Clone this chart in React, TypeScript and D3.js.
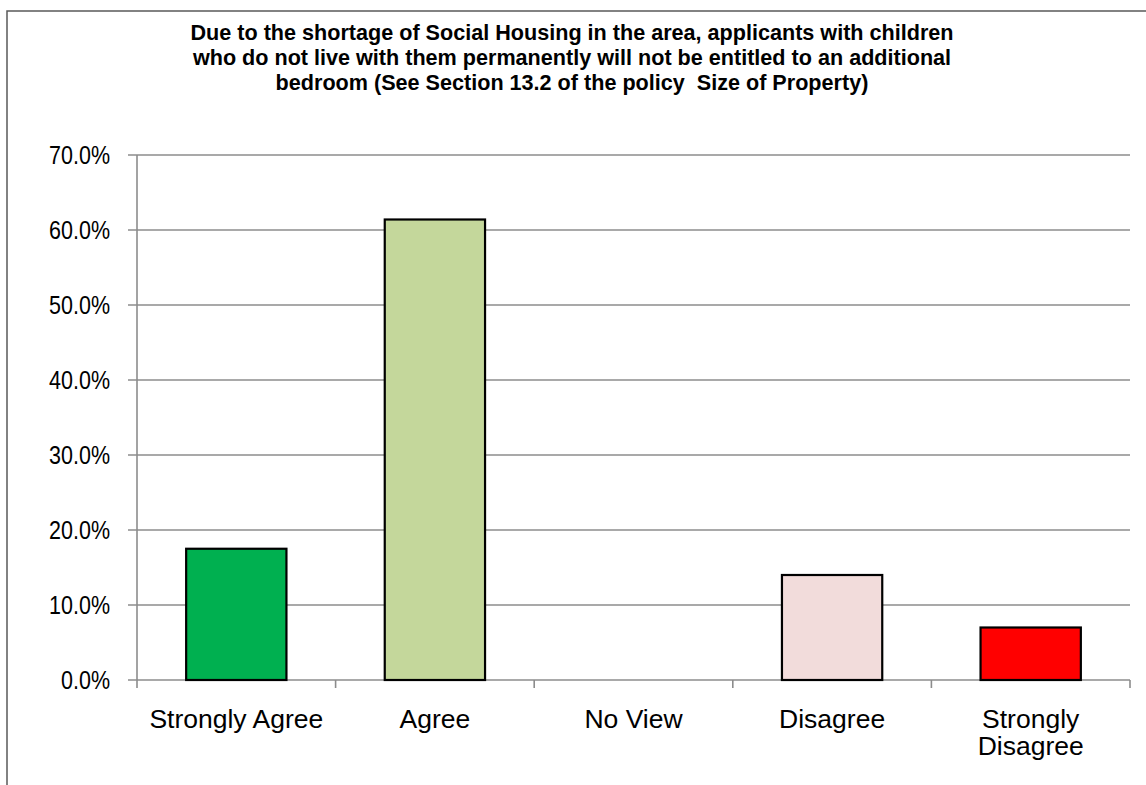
import React from "react";
import * as d3 from "d3";

const categories: string[][] = [["Strongly Agree"], ["Agree"], ["No View"], ["Disagree"], ["Strongly", "Disagree"]];
const values: number[] = [0.175, 0.614, 0, 0.14, 0.07];
const colors: string[] = ["#00B050", "#C4D79B", "#FFFFFF", "#F2DCDB", "#FF0000"];
const yTicks: number[] = [0, 0.1, 0.2, 0.3, 0.4, 0.5, 0.6, 0.7];
const titleLines: string[] = [
  "Due to the shortage of Social Housing in the area, applicants with children",
  "who do not live with them permanently will not be entitled to an additional",
  "bedroom (See Section 13.2 of the policy  Size of Property)",
];

export default function App() {
  const W = 1146, H = 785;
  const left = 137, right = 1130, top = 155, bottom = 680;
  const x = d3.scaleBand<number>().domain(d3.range(categories.length)).range([left, right]).paddingInner(0).paddingOuter(0);
  const y = d3.scaleLinear().domain([0, 0.7]).range([bottom, top]);
  const bw = x.bandwidth();
  const barW = bw * 0.505;
  const fmt = d3.format(".1%");
  const font = "'Liberation Sans', Arial, sans-serif";
  const tickFs = 25;
  return (
    <svg width={W} height={H} style={{ position: "absolute", left: 0, top: 0 }}>
      <rect x={0} y={0} width={W} height={H} fill="#fff" />
      <path d={`M7,${H} V11 H${W}`} fill="none" stroke="#595959" strokeWidth={1.5} />
      {titleLines.map((t, i) => (
        <text key={i} x={572} y={39.5 + i * 25} textAnchor="middle" fontFamily={font} fontWeight="bold" fontSize={21.6} fill="#000" style={{ whiteSpace: "pre" }}>{t}</text>
      ))}
      {yTicks.map((t) => (
        <g key={t}>
          <line x1={left - 9} x2={right} y1={y(t)} y2={y(t)} stroke="#8c8c8c" strokeWidth={1.6} />
          <text transform={`translate(110, ${y(t) + tickFs * 0.358}) scale(0.86, 1)`} textAnchor="end" fontFamily={font} fontSize={tickFs} fill="#000">{fmt(t)}</text>
        </g>
      ))}
      <line x1={left} x2={left} y1={top} y2={bottom} stroke="#8c8c8c" strokeWidth={1.6} />
      {d3.range(categories.length + 1).map((i) => {
        const xx = i < categories.length ? x(i)! : right;
        return <line key={i} x1={xx} x2={xx} y1={bottom} y2={bottom + 8} stroke="#8c8c8c" strokeWidth={1.6} />;
      })}
      {values.map((v, i) => v > 0 && (
        <rect key={i} x={x(i)! + (bw - barW) / 2} y={y(v)} width={barW} height={bottom - y(v)} fill={colors[i]} stroke="#000" strokeWidth={2.2} />
      ))}
      {categories.map((c, i) => (
        <text key={i} x={x(i)! + bw / 2} textAnchor="middle" fontFamily={font} fontSize={26.5} fill="#000">
          {c.map((l, j) => (
            <tspan key={j} x={x(i)! + bw / 2} y={728 + j * 27}>{l}</tspan>
          ))}
        </text>
      ))}
    </svg>
  );
}
